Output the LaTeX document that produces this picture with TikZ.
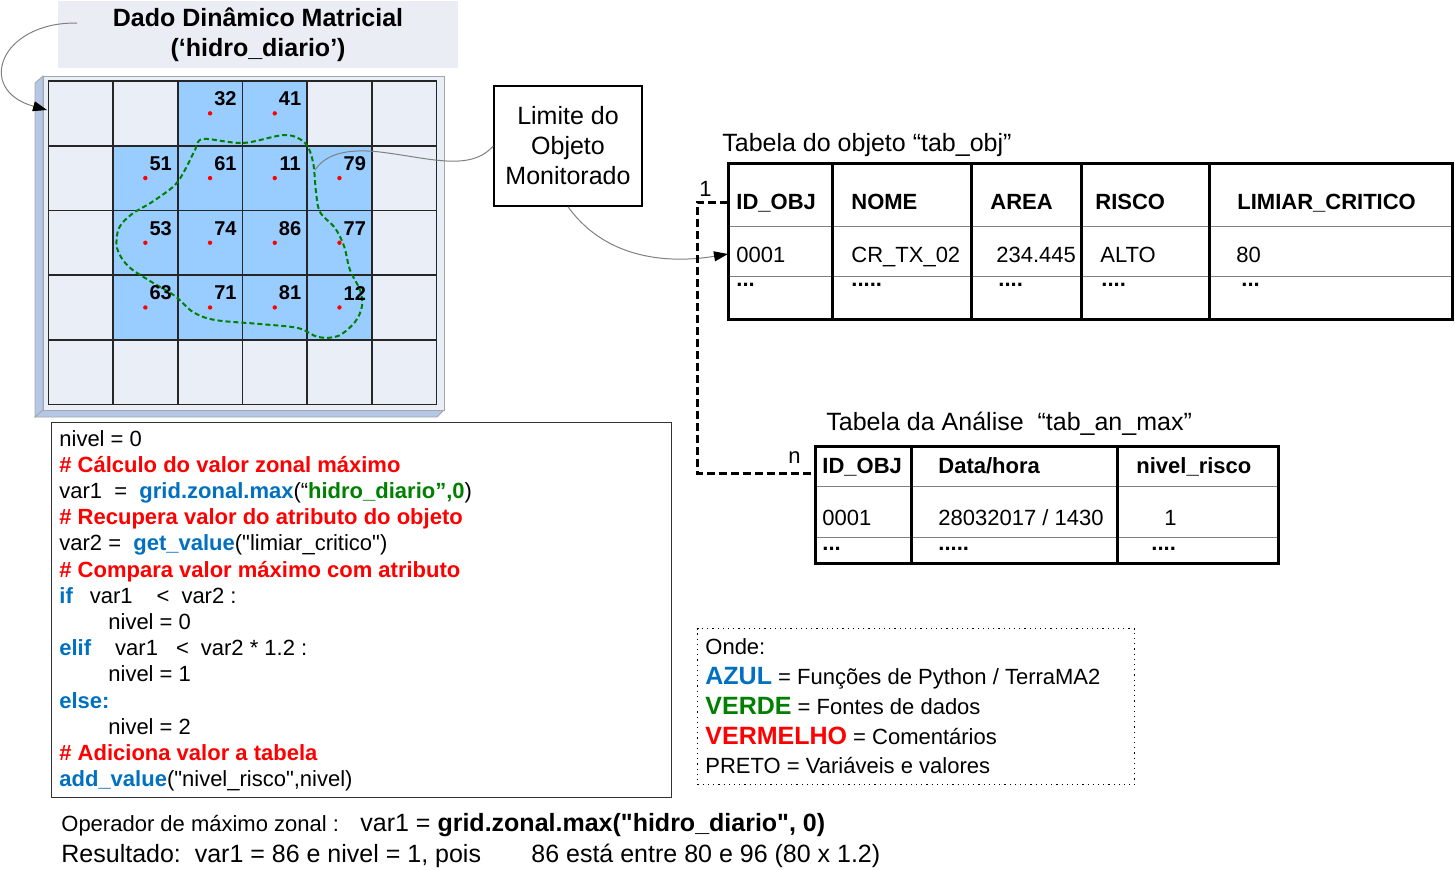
\documentclass[tikz,border=0pt]{standalone}
\usepackage{fontspec}
\setmainfont{Liberation Sans}
\usetikzlibrary{calc,arrows.meta}
\definecolor{slabface}{RGB}{233,238,247}
\definecolor{slabside}{RGB}{180,199,231}
\definecolor{cellblue}{RGB}{153,204,255}
\definecolor{ttlfill}{RGB}{234,237,244}
\definecolor{pyblue}{RGB}{0,112,192}
\definecolor{pygreen}{RGB}{0,128,0}
\newcommand{\funcao}[1]{\textcolor{pyblue}{\textbf{#1}}}
\newcommand{\fonte}[1]{\textcolor{pygreen}{\textbf{#1}}}
\newcommand{\coment}[1]{\textcolor{red}{\textbf{#1}}}
\newcommand{\legword}[2]{\textcolor{#1}{\fontsize{12.5}{15}\selectfont\bfseries #2}}
\newcommand{\dq}{\textquotedbl}

\begin{document}
\begin{tikzpicture}[x=0.5pt,y=-0.5pt,
    txt/.style={anchor=base west,inner sep=0pt,font=\fontsize{11}{13}\selectfont},
    big/.style={anchor=base west,inner sep=0pt,font=\fontsize{12.5}{15}\selectfont},
    hdr/.style={anchor=base west,inner sep=0pt,font=\fontsize{11}{13}\selectfont\bfseries},
    val/.style={inner sep=0pt,font=\fontsize{10}{12}\selectfont\bfseries},
    link/.style={draw=gray,line width=0.5pt},
    tip/.style={-{Triangle[length=7pt,width=5pt,color=black]}},
    tbl/.style={line width=1.5pt},
    sep/.style={draw=gray,line width=0.5pt},
    rel/.style={line width=1.5pt,dash pattern=on 4pt off 2pt}]
\useasboundingbox (0,0) rectangle (1455,869);

% raster
\filldraw[fill=slabside,draw=gray!70] (43,76) -- (35,83) -- (35,417) -- (43,410) -- cycle;
\filldraw[fill=slabside,draw=gray!70] (35,417) -- (437,417) -- (444,410) -- (43,410) -- cycle;
\filldraw[fill=slabface,draw=gray!70] (43,76) rectangle (444,410);
\foreach \c/\r/\v in {2/0/32,3/0/41,1/1/51,2/1/61,3/1/11,4/1/79,1/2/53,2/2/74,3/2/86,4/2/77,1/3/63,2/3/71,3/3/81,4/3/12}
    \fill[cellblue] ({48.3+64.7*\c},{81+64.7*\r}) rectangle ++(64.7,64.7);
\foreach \i in {0,...,6}
    \draw[line width=0.8pt,black!85] ({48.3+64.7*\i},81) -- ({48.3+64.7*\i},404.5);
\foreach \j in {0,...,5}
    \draw[line width=0.8pt,black!85] (48.3,{81+64.7*\j}) -- (436.5,{81+64.7*\j});
\draw[pygreen,line width=1pt,dash pattern=on 2.5pt off 1.5pt] plot[smooth cycle,tension=0.55] coordinates {
    (203,139) (243,143) (285,135) (305,143) (313,162) (316,192) (320,212) (335,228) (344,246)
    (350,270) (360,290) (362,306) (355,322) (338,336) (318,337) (298,328) (260,324) (215,320)
    (193,312) (175,296) (150,281) (128,266) (117,248) (119,228) (132,214) (152,202) (175,185)
    (186,168) (195,150)};
\foreach \c/\r/\v in {2/0/32,3/0/41,1/1/51,2/1/61,3/1/11,4/1/79,1/2/53,2/2/74,3/2/86,4/2/77,1/3/63,2/3/71,3/3/81,4/3/12} {
    \fill[red] ({80.65+64.7*\c},{113.35+64.7*\r}) circle (1.1pt);
    \node[val] (v\v) at ({96+64.7*\c},{99+64.7*\r}) {\v};}

\node[fill=ttlfill,minimum width=200pt,minimum height=30.5pt,align=center,
    font=\fontsize{12.5}{15}\selectfont\bfseries] (ttl) at (258,34.5) {Dado Dinâmico Matricial\\(‘hidro\_diario’)};
\coordinate (t0) at (77,23);
\coordinate (gtl) at (47,110);
\draw[link,tip] (t0) .. controls (0,22) and (-25,90) .. (gtl);

\node[draw,line width=0.75pt,minimum width=74pt,minimum height=60pt,align=center,
    font=\fontsize{12.5}{15}\selectfont] (lim) at (568,146) {Limite do\\Objeto\\Monitorado};
\coordinate (lz) at (315,170);
\draw[link] (lim.west) .. controls (470,172) and (430,158) .. (380,152) .. controls (345,148) and (325,155) .. (lz);

% tab_obj
\node[big] (tt1) at (722,151) {Tabela do objeto “tab\_obj”};
\foreach \y in {226,276} \draw[sep] (728,\y) -- (1452,\y);
\draw[tbl] (728,163) rectangle (1452,319);
\foreach \x in {832,971,1081,1209} \draw[tbl] (\x,163) -- (\x,319);
\foreach \x/\t in {736/ID\_OBJ,851/NOME,990/AREA,1095/RISCO,1237/LIMIAR\_CRITICO}
    \node[hdr] (oh\x) at (\x,209) {\t};
\foreach \x/\t in {736/0001,851/CR\_TX\_02,996/234.445,1100/ALTO,1236/80}
    \node[txt] (ov\x) at (\x,262) {\t};
\node[hdr] (od1) at (736,286) {...};
\node[hdr] (od2) at (851,286) {.....};
\node[hdr] (od3) at (998,286) {....};
\node[hdr] (od4) at (1101,286) {....};
\node[hdr] (od5) at (1241,286) {...};
\coordinate (o1) at (728,202);
\coordinate (o2) at (728,254);
\draw[link,tip] (lim.south) .. controls (610,265) and (680,262) .. (o2);

% tab_an_max
\node[big] (tt2) at (826,430) {Tabela da Análise~~“tab\_an\_max”};
\foreach \y in {486,537} \draw[sep] (815,\y) -- (1278,\y);
\draw[tbl] (815,446) rectangle (1278,563);
\foreach \x in {911,1117} \draw[tbl] (\x,446) -- (\x,563);
\foreach \x/\t in {822/ID\_OBJ,938/{Data/hora},1136/nivel\_risco}
    \node[hdr] (ah\x) at (\x,473) {\t};
\foreach \x/\t in {822/0001,938/{28032017 / 1430},1164/1}
    \node[txt] (av\x) at (\x,525) {\t};
\node[hdr] (ad1) at (822,550) {...};
\node[hdr] (ad2) at (938,550) {.....};
\node[hdr] (ad3) at (1151,550) {....};
\coordinate (a1) at (815,473);
\draw[rel] (o1) -- ++(-31,0) |- (a1);
\node[txt] (one) at (699,196) {1};
\node[txt] (nn) at (788,463) {n};

% script
\node[draw=black!80,line width=0.6pt,minimum width=310pt,minimum height=187.5pt,
    anchor=north west,inner sep=0pt] (code) at (51,422) {};
\foreach \t [count=\i] in {
    {nivel = 0},
    {\coment{\# Cálculo do valor zonal máximo}},
    {var1~~=~~\funcao{grid.zonal.max}(“\fonte{hidro\_diario”,0})},
    {\coment{\# Recupera valor do atributo do objeto}},
    {var2 =~~\funcao{get\_value}(\dq limiar\_critico\dq)},
    {\coment{\# Compara valor máximo com atributo}},
    {\funcao{if}\hspace{8.5pt}var1\hspace{12pt}<\hspace{6pt}var2 :},
    {\hspace{24.5pt}nivel = 0},
    {\funcao{elif}\hspace{12pt}var1\hspace{9pt}<\hspace{6pt}var2 * 1.2 :},
    {\hspace{24.5pt}nivel = 1},
    {\funcao{else:}},
    {\hspace{24.5pt}nivel = 2},
    {\coment{\# Adiciona valor a tabela}},
    {\funcao{add\_value}(\dq nivel\_risco\dq,nivel)}}
    \node[txt] (c\i) at (59,{446+26.2*(\i-1)}) {\t};

% legenda
\node[draw,dotted,line width=0.6pt,minimum width=218.5pt,minimum height=78pt,
    anchor=north west,inner sep=0pt] (leg) at (697,628) {};
\node[txt] (l1) at (705,654) {Onde:};
\node[txt] (l2) at (705,684) {\legword{pyblue}{AZUL} = Funções de Python / TerraMA2};
\node[txt] (l3) at (705,714) {\legword{pygreen}{VERDE} = Fontes de dados};
\node[txt] (l4) at (705,744) {\legword{red}{VERMELHO} = Comentários};
\node[txt] (l5) at (705,773) {PRETO = Variáveis e valores};

\node[txt] (op) at (61,831) {Operador de máximo zonal :};
\node[big] (opv) at (360,831) {var1 = \textbf{grid.zonal.max(\dq hidro\_diario\dq, 0)}};
\node[big] (res) at (61,862) {Resultado:~~var1 = 86 e nivel = 1, pois};
\node[big] (res2) at (531,862) {86 está entre 80 e 96 (80 x 1.2)};
\end{tikzpicture}
\end{document}
